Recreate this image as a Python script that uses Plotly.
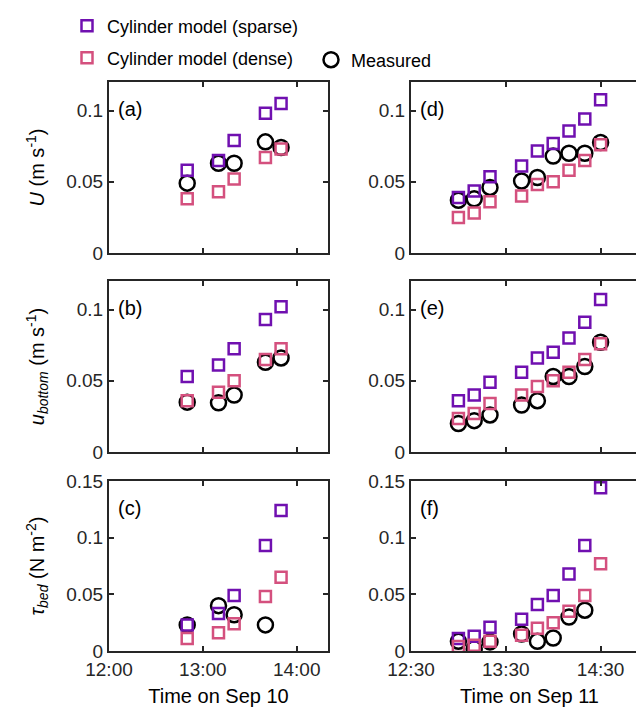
import plotly.graph_objects as go

# ---------------- data ----------------
day10 = "2020-09-10"
day11 = "2020-09-11"
times_10 = ["12:50", "13:10", "13:20", "13:40", "13:50"]
times_11 = ["13:00", "13:10", "13:20", "13:40", "13:50", "14:00", "14:10", "14:20", "14:30"]

# (a) depth-averaged velocity U, Sep 10
U_sparse_10 = [0.058, 0.065, 0.079, 0.098, 0.105]
U_dense_10 = [0.038, 0.043, 0.052, 0.067, 0.073]
U_meas_10 = [0.049, 0.063, 0.063, 0.078, 0.074]
# (b) near-bed velocity, Sep 10
ub_sparse_10 = [0.053, 0.061, 0.0725, 0.093, 0.102]
ub_dense_10 = [0.036, 0.042, 0.050, 0.065, 0.0725]
ub_meas_10 = [0.035, 0.0345, 0.040, 0.063, 0.066]
# (c) bed shear stress, Sep 10
tau_sparse_10 = [0.023, 0.033, 0.049, 0.093, 0.124]
tau_dense_10 = [0.011, 0.016, 0.024, 0.048, 0.065]
tau_meas_10 = [0.023, 0.040, 0.032, 0.023, None]

# (d) U, Sep 11
U_sparse_11 = [0.039, 0.0435, 0.0535, 0.061, 0.0716, 0.0768, 0.0857, 0.094, 0.1075]
U_dense_11 = [0.025, 0.028, 0.036, 0.040, 0.048, 0.050, 0.058, 0.065, 0.076]
U_meas_11 = [0.037, 0.038, 0.046, 0.0505, 0.053, 0.068, 0.070, 0.070, 0.0775]
# (e) near-bed velocity, Sep 11
ub_sparse_11 = [0.036, 0.040, 0.049, 0.056, 0.066, 0.070, 0.080, 0.091, 0.107]
ub_dense_11 = [0.0235, 0.027, 0.034, 0.040, 0.046, 0.050, 0.056, 0.065, 0.076]
ub_meas_11 = [0.020, 0.022, 0.026, 0.033, 0.036, 0.053, 0.053, 0.060, 0.077]
# (f) bed shear stress, Sep 11
tau_sparse_11 = [0.011, 0.013, 0.021, 0.028, 0.041, 0.049, 0.068, 0.093, 0.144]
tau_dense_11 = [0.004, 0.005, 0.0085, 0.014, 0.020, 0.025, 0.035, 0.049, 0.077]
tau_meas_11 = [0.0085, 0.002, 0.008, 0.015, 0.0085, 0.0115, 0.030, 0.036, None]

xticks_10 = ["12:00", "13:00", "14:00"]
xticks_11 = ["12:30", "13:30", "14:30"]
xrange_10 = ["12:00", "14:20"]
xrange_11 = ["12:30", "15:00"]
yticks_vel = [0, 0.05, 0.1]
yticks_tau = [0, 0.05, 0.1, 0.15]
panel_labels = ["(a)", "(b)", "(c)", "(d)", "(e)", "(f)"]
ytitles = ["<i>U</i> (m s<sup>-1</sup>)",
           "<i>u</i><sub><i>bottom</i></sub> (m s<sup>-1</sup>)",
           "<i>τ</i><sub><i>bed</i></sub> (N m<sup>-2</sup>)"]
xtitles = ["Time on Sep 10", "Time on Sep 11"]

# ---------------- style ----------------
C_SPARSE = "#7010b0"
C_DENSE = "#d4507e"
C_MEAS = "#000000"
AX = "#262626"
FONT = "Liberation Sans, Arial, Helvetica, sans-serif"

W, H = 644, 710
ML, MR, MT, MB = 101, 4, 74, 67
PW = W - ML - MR
PH = H - MT - MB

def dom_x(a, b):
    return [(a - ML) / PW, (b - ML) / PW]

def dom_y(top, bot):
    return [(H - MB - bot) / PH, (H - MB - top) / PH]

xdoms = [dom_x(101, 320), dom_x(403, 640)]
ydoms = [dom_y(74, 245), dom_y(273, 444), dom_y(473, 643)]

def ts(day, t):
    return f"{day} {t}"

fig = go.Figure()

panels = [
    (0, 0, day10, times_10, U_sparse_10, U_dense_10, U_meas_10),
    (0, 1, day10, times_10, ub_sparse_10, ub_dense_10, ub_meas_10),
    (0, 2, day10, times_10, tau_sparse_10, tau_dense_10, tau_meas_10),
    (1, 0, day11, times_11, U_sparse_11, U_dense_11, U_meas_11),
    (1, 1, day11, times_11, ub_sparse_11, ub_dense_11, ub_meas_11),
    (1, 2, day11, times_11, tau_sparse_11, tau_dense_11, tau_meas_11),
]

layout_axes = {}
for i, (col, row, day, times, sp, de, me) in enumerate(panels):
    n = i + 1
    xa = "x" if n == 1 else f"x{n}"
    ya = "y" if n == 1 else f"y{n}"
    xs = [ts(day, t) for t in times]
    first = (n == 1)
    fig.add_trace(go.Scatter(x=xs, y=me, xaxis=xa, yaxis=ya, mode="markers",
                             name="Measured", legend="legend3", showlegend=first,
                             marker=dict(symbol="circle-open", size=15, color=C_MEAS,
                                         line=dict(width=2.5, color=C_MEAS))))
    fig.add_trace(go.Scatter(x=xs, y=sp, xaxis=xa, yaxis=ya, mode="markers",
                             name="Cylinder model (sparse)", legend="legend", showlegend=first,
                             marker=dict(symbol="square-open", size=11, color=C_SPARSE,
                                         line=dict(width=2.5, color=C_SPARSE))))
    fig.add_trace(go.Scatter(x=xs, y=de, xaxis=xa, yaxis=ya, mode="markers",
                             name="Cylinder model (dense)", legend="legend2", showlegend=first,
                             marker=dict(symbol="square-open", size=11, color=C_DENSE,
                                         line=dict(width=2.5, color=C_DENSE))))

    xticks = xticks_10 if col == 0 else xticks_11
    xr = xrange_10 if col == 0 else xrange_11
    yt = yticks_tau if row == 2 else yticks_vel
    yr = [0, 0.15] if row == 2 else [0, 0.12]
    xkey = "xaxis" if n == 1 else f"xaxis{n}"
    ykey = "yaxis" if n == 1 else f"yaxis{n}"
    layout_axes[xkey] = dict(
        domain=xdoms[col], anchor=ya, type="date",
        range=[ts(day, xr[0]), ts(day, xr[1])],
        tickvals=[ts(day, t) for t in xticks], ticktext=xticks,
        showticklabels=(row == 2),
        showline=True, mirror="ticks", linecolor=AX, linewidth=2,
        ticks="inside", ticklen=5, tickwidth=2, tickcolor=AX,
        showgrid=False, zeroline=False,
        tickfont=dict(size=19, color=AX, family=FONT),
        title=dict(text=xtitles[col] if row == 2 else "", font=dict(size=20, color="#000", family=FONT),
                   standoff=10),
    )
    layout_axes[ykey] = dict(
        domain=ydoms[row], anchor=xa, range=yr,
        tickvals=yt, ticktext=[f"{v:g}" for v in yt],
        showline=True, mirror="ticks", linecolor=AX, linewidth=2,
        ticks="inside", ticklen=5, tickwidth=2, tickcolor=AX,
        showgrid=False, zeroline=False,
        tickfont=dict(size=19, color=AX, family=FONT),
        title=dict(text=ytitles[row] if col == 0 else "", font=dict(size=20, color="#000", family=FONT),
                   standoff=16),
    )
    fig.add_annotation(text=panel_labels[i], xref=f"{xa} domain", yref=f"{ya} domain",
                       x=0.03, y=0.84, xanchor="left", yanchor="middle", showarrow=False,
                       font=dict(size=20, color="#000", family=FONT))

fig.update_layout(**layout_axes)

def legpos(px, py):
    return dict(x=(px - ML) / PW, y=(H - MB - py) / PH, xanchor="left", yanchor="middle",
                bgcolor="rgba(0,0,0,0)", borderwidth=0,
                font=dict(size=18, color="#000", family=FONT), itemsizing="trace")

fig.update_layout(
    width=W, height=H,
    margin=dict(l=ML, r=MR, t=MT, b=MB, autoexpand=False),
    paper_bgcolor="white", plot_bgcolor="white",
    font=dict(family=FONT, color="#000"),
    legend=legpos(59, 18),
    legend2=legpos(59, 50),
    legend3=legpos(303, 52),
)

fig.write_html("out.html")
